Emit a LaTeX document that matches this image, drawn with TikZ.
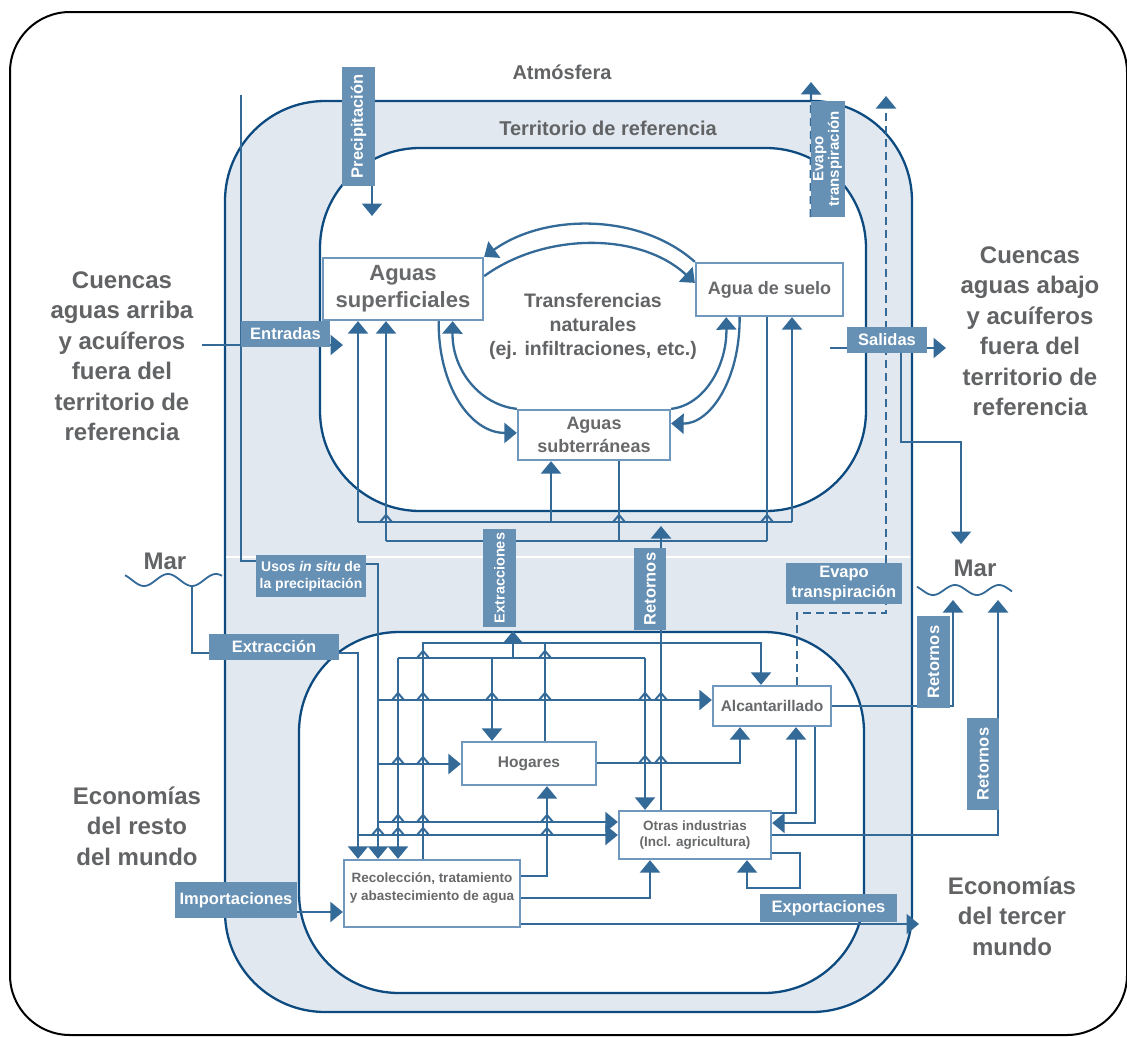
\documentclass[tikz,border=0pt]{standalone}
\usepackage{fontspec}
\setmainfont{Liberation Sans}
\usepackage{graphicx}
\usetikzlibrary{arrows.meta,calc}
\pgfdeclarelayer{back}
\pgfdeclarelayer{bg}
\pgfsetlayers{back,bg,main}
\definecolor{gtxt}{HTML}{626365}
\definecolor{btxt}{HTML}{68696B}
\definecolor{bnd}{HTML}{0D4A80}
\definecolor{terr}{HTML}{E1E8F0}
\definecolor{lbl}{HTML}{6690B4}
\definecolor{ln}{HTML}{346A98}
\definecolor{bxb}{HTML}{7097BD}
\newcommand{\myfs}[2]{\bfseries\fontsize{#1}{#2}\selectfont}
\tikzset{
  conn/.style={draw=ln, line width=2.3pt},
  tipst/.style={-{Triangle[width=20pt,length=12.5pt]}},
  arr/.style={conn, tipst},
  dsh/.style={conn, dash pattern=on 8pt off 5pt},
  hopst/.style={draw=ln, line width=2pt},
  lab/.style={fill=lbl, text=white, inner sep=0pt, align=center, font={\myfs{16.5}{19}}},
  wbox/.style={draw=bxb, fill=white, line width=2.3pt, text=btxt, inner sep=0pt, align=center},
  big/.style={text=gtxt, inner sep=0pt, align=center, font={\myfs{24}{30.5}}},
  mid/.style={text=gtxt, inner sep=0pt, align=center, font={\myfs{20}{24}}},
  region/.style={draw=bnd, line width=2.3pt, rounded corners=100pt},
}
\begin{document}
\begin{tikzpicture}[x=1pt,y=-1pt]
\useasboundingbox (0,0) rectangle (1127,1036);
\begin{pgfonlayer}{back}
\draw[line width=2pt, rounded corners=60pt] (10,12) rectangle (1127,1035);
\draw[region, fill=terr] (225,101) rectangle (912,1012);
\draw[white, line width=2.5pt] (226,557) -- (910,557);
\draw[region, fill=white] (320,148) rectangle (866,511);
\draw[region, fill=white] (299,632) rectangle (864,993);
\draw[conn, line width=1.8pt] plot[smooth, domain=125:222, samples=60] (\x,{580+6*sin((\x-180)*7.5)});
\draw[conn, line width=1.8pt] plot[smooth, domain=917:1012, samples=60] (\x,{590+5*sin((\x-922)*8.18)});
\end{pgfonlayer}

% texts
\node[mid] (atm) at (562,72) {Atmósfera};
\node[mid] (terrl) at (608,128) {Territorio de referencia};
\node[big] (cuL) at (122,356) {Cuencas\\aguas arriba\\y acuíferos\\fuera del\\territorio de\\referencia};
\node[big] (cuR) at (1030,331) {Cuencas\\aguas abajo\\y acuíferos\\fuera del\\territorio de\\referencia};
\node[big] (ecL) at (137,826) {Economías\\del resto\\del mundo};
\node[big] (ecR) at (1012,916) {Economías\\del tercer\\mundo};
\node[big] (marL) at (165,561) {Mar};
\node[big] (marR) at (975,568) {Mar};
\node[text=gtxt, inner sep=0pt, align=center, font={\myfs{19.5}{24}}] (trans) at (593,326) {Transferencias\\naturales\\(ej. infiltraciones, etc.)};

% white boxes
\node[wbox, minimum width=160pt, minimum height=62pt, font={\myfs{22}{27}}] (as) at (403,289) {Aguas\\superficiales};
\node[wbox, minimum width=147pt, minimum height=53pt, font={\myfs{18}{22}}] (ads) at (769.5,289.5) {Agua de suelo};
\node[wbox, minimum width=152pt, minimum height=50pt, font={\myfs{18}{23}}] (asub) at (594,435) {Aguas\\subterráneas};
\node[wbox, minimum width=118pt, minimum height=40pt, font={\myfs{15.5}{18}}] (alc) at (772,706) {Alcantarillado};
\node[wbox, minimum width=134pt, minimum height=43pt, font={\myfs{15.5}{18}}] (hog) at (529,763.5) {Hogares};
\node[wbox, minimum width=152pt, minimum height=48pt, font={\myfs{13.5}{16.5}}] (otr) at (695,835) {Otras industrias\\(Incl. agricultura)};
\node[wbox, minimum width=176pt, minimum height=67pt] (rec) at (432,893.5) {};
\node[text=btxt, inner sep=0pt, align=center, font={\myfs{13.5}{18}}] (rect) at (432,888) {Recolección, tratamiento\\y abastecimiento de agua};

% label boxes
\node[lab, minimum width=33pt, minimum height=119pt] (prec) at (358.5,126.5) {\rotatebox{90}{Precipitación}};
\node[lab, minimum width=34pt, minimum height=116pt, font={\myfs{15}{15}}] (evt) at (828,159) {\rotatebox{90}{\begin{tabular}{@{}c@{}}Evapo\\transpiración\end{tabular}}};
\node[lab, minimum width=89pt, minimum height=26pt] (ent) at (285.5,334) {Entradas};
\node[lab, minimum width=80pt, minimum height=26pt] (sal) at (887,340) {Salidas};
\node[lab, minimum width=110pt, minimum height=42pt, font={\myfs{14}{17}}] (usos) at (311,576) {Usos \textit{in situ} de\\la precipitación};
\node[lab, minimum width=130pt, minimum height=26pt] (extn) at (274,647) {Extracción};
\node[lab, minimum width=33pt, minimum height=98pt, font={\myfs{14.5}{17}}] (extc) at (499.5,578) {\rotatebox{90}{Extracciones}};
\node[lab, minimum width=32pt, minimum height=82pt] (retc) at (650,589) {\rotatebox{90}{Retornos}};
\node[lab, minimum width=116pt, minimum height=41pt, font={\myfs{16.5}{20}}] (evl) at (844,583.5) {Evapo\\transpiración};
\node[lab, minimum width=33pt, minimum height=92pt] (ret1) at (933.5,662) {\rotatebox{90}{Retornos}};
\node[lab, minimum width=32pt, minimum height=92pt] (ret2) at (983,764) {\rotatebox{90}{Retornos}};
\node[lab, minimum width=122pt, minimum height=36pt] (imp) at (236,900) {Importaciones};
\node[lab, minimum width=137pt, minimum height=28pt] (expo) at (828.5,908) {Exportaciones};

% coordinates
\coordinate (precTip) at (372,216);
\coordinate (evtTip) at (811,82);
\coordinate (evTip) at (886,96);
\coordinate (entS) at (202,345);
\coordinate (entT) at (343,345);
\coordinate (salS) at (830,348);
\coordinate (salT) at (946,348);
\coordinate (salD1) at (901,442);
\coordinate (marTipS) at (961,544);
\coordinate (a1) at (358,522);
\coordinate (a2) at (792,522);
\coordinate (aS) at (551,522);
\coordinate (b1) at (386,541);
\coordinate (b2) at (767,541);
\coordinate (bS) at (619,541);
\coordinate (retTip) at (661,526);
\coordinate (pl1) at (241,95);
\coordinate (pl2) at (241,561);
\coordinate (us1) at (378,564);
\coordinate (mL) at (192,586);
\coordinate (e1) at (192,653);
\coordinate (e2) at (358,653);
\coordinate (e3) at (358,835);
\coordinate (u1) at (378,700);
\coordinate (u2) at (378,764);
\coordinate (u3) at (378,822);
\coordinate (L2a) at (398,658);
\coordinate (L2b) at (645,658);
\coordinate (hx) at (492,658);
\coordinate (ex) at (513,658);
\coordinate (exTip) at (513,631);
\coordinate (L1a) at (423,643);
\coordinate (L1b) at (761,643);
\coordinate (hu) at (545,643);
\coordinate (hr1) at (740,763);
\coordinate (o1) at (796,813);
\coordinate (al1) at (815,823);
\coordinate (al2) at (953,706);
\coordinate (marT1) at (953,600);
\coordinate (o2) at (998,835);
\coordinate (marT2) at (998,600);
\coordinate (lp1) at (800,853);
\coordinate (lp2) at (800,888);
\coordinate (lp3) at (747,888);
\coordinate (r1) at (547,876);
\coordinate (r2) at (650,898);
\coordinate (r3) at (919,924);
\coordinate (impY) at (300,912);
\coordinate (d1) at (797,613);
\coordinate (d2) at (886,613);

\begin{pgfonlayer}{bg}
% atmosphere
\draw[arr] (prec.south -| precTip) -- (precTip);
\draw[dsh,tipst] (evt.south west) -- (evtTip);
\draw[dsh] (alc.north -| d1) -- (d1) -- (d2) -- (evl.south -| d2);
\draw[dsh,tipst] (evl.north -| d2) -- (evTip);
% inflow / outflow
\draw[arr] (entS) -- (entT);
\draw[arr] (salS) -- (salT);
\draw[arr] (sal.south -| salD1) -- (salD1) -- (salD1 -| marTipS) -- (marTipS);
% precipitation in situ
\draw[conn] (pl1) -- (pl2) -- (usos.west |- pl2);
\draw[arr] (usos.east |- us1) -- (us1) -- (us1 |- rec.north);
% environment network
\draw[conn] (a1) -- (a2);
\draw[conn] (b1) -- (b2);
\draw[arr] (a1) -- (a1 |- as.south);
\draw[arr] (b1) -- (b1 |- as.south);
\draw[arr] (aS) -- (aS |- asub.south);
\draw[conn] (bS |- asub.south) -- (bS);
\draw[arr] (a2) -- (a2 |- ads.south);
\draw[conn] (b2 |- ads.south) -- (b2);
\draw[arr] (otr.north -| retTip) -- (retTip);
% natural transfers
\draw[arr] (ads.north west) .. controls (640,213) and (545,213) .. (as.north east);
\draw[arr] ($(as.north east)!0.3!(as.south east)$) .. controls (545,232) and (640,232) .. ($(ads.north west)!0.38!(ads.south west)$);
\draw[arr] ($(as.south west)!0.72!(as.south east)$) .. controls (438,385) and (470,433) .. ($(asub.north west)!0.46!(asub.south west)$);
\draw[arr] (asub.north west) .. controls (480,405) and (452,370) .. ($(as.south west)!0.806!(as.south east)$);
\draw[arr] (asub.north east) .. controls (705,405) and (727,365) .. ($(ads.south west)!0.21!(ads.south east)$);
\draw[arr] ($(ads.south west)!0.30!(ads.south east)$) .. controls (740,380) and (710,424) .. ($(asub.north east)!0.28!(asub.south east)$);
% economy
\draw[conn] (mL) -- (e1) -- (extn.west |- e1);
\draw[arr] (extn.east |- e1) -- (e2) -- (e2 |- rec.north);
\draw[arr] (e3) -- (e3 -| otr.west);
\draw[arr] (u1) -- (u1 -| alc.west);
\draw[arr] (u2) -- (u2 -| hog.west);
\draw[arr] (u3) -- (u3 -| otr.west);
\draw[conn] (L2a) -- (L2b);
\draw[arr] (L2a) -- (L2a |- rec.north);
\draw[arr] (L2b) -- (L2b |- otr.north);
\draw[arr] (hx) -- (hx |- hog.north);
\draw[arr] (ex) -- (exTip);
\draw[arr] (L1a |- rec.north) -- (L1a) -- (L1b) -- (L1b |- alc.north);
\draw[conn] (hu |- hog.north) -- (hu);
\draw[arr] (hog.east |- hr1) -- (hr1) -- (hr1 |- alc.south);
\draw[arr] (otr.east |- o1) -- (o1) -- (o1 |- alc.south);
\draw[arr] (al1 |- alc.south) -- (al1) -- (al1 -| otr.east);
\draw[arr] (alc.east |- al2) -- (al2) -- (marT1);
\draw[arr] (otr.east |- o2) -- (o2) -- (marT2);
\draw[arr] (otr.east |- lp1) -- (lp1) -- (lp2) -- (lp3) -- (lp3 |- otr.south);
\draw[arr] (rec.east |- r1) -- (r1) -- (r1 |- hog.south);
\draw[arr] (rec.east |- r2) -- (r2) -- (r2 |- otr.south);
\draw[arr] (rec.east |- r3) -- (r3);
\draw[arr] (imp.east |- impY) -- (impY -| rec.west);
% line hops
\foreach \hx/\hy in {386/522,619/522,767/522,
  423/658,545/658,
  398/700,423/700,492/700,545/700,645/700,661/700,
  398/764,423/764,645/763,661/763,
  398/822,423/822,547/822,
  378/835,398/835,423/835,547/835}
  {\draw[hopst] (\hx-6,\hy) -- (\hx,\hy-7) -- (\hx+6,\hy);}
\end{pgfonlayer}
\end{tikzpicture}
\end{document}
